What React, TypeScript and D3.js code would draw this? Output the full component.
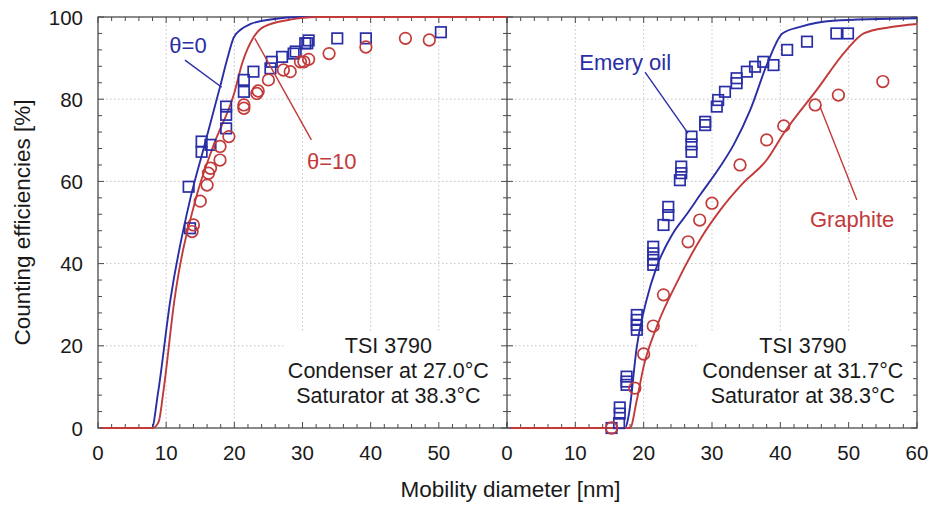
import React, { useEffect, useRef } from "react";
import * as d3 from "d3";

const W = 932;
const H = 505;
const BLUE = "#2a2ea6";
const RED = "#c23a3a";
const FRAME = "#4a4a4a";
const FONT = "'Liberation Sans', Arial, sans-serif";

// ---------- data ----------
const xTicksLeft = [0, 10, 20, 30, 40, 50];
const xTicksRight = [0, 10, 20, 30, 40, 50, 60];
const yTicks = [0, 20, 40, 60, 80, 100];

// Left panel (TSI 3790, condenser 27.0°C)
const leftSquareD = [13.3, 13.5, 15.2, 15.2, 16.5, 18.8, 18.8, 18.8, 21.4, 21.4, 22.8, 25.3, 25.5, 27.0, 28.7, 29.0, 30.4, 30.7, 30.9, 35.1, 39.3, 50.3];
const leftSquareE = [58.7, 48.6, 69.7, 67.2, 68.9, 78.2, 76.2, 72.9, 84.7, 81.8, 86.7, 87.5, 89.1, 90.3, 91.1, 91.6, 93.6, 93.6, 94.3, 94.8, 94.8, 96.3];
const leftCircleD = [13.8, 14.0, 15.0, 16.0, 16.2, 16.5, 17.9, 17.9, 19.2, 21.4, 21.4, 23.3, 23.5, 25.0, 27.2, 28.2, 29.7, 30.2, 30.9, 33.9, 39.3, 45.1, 48.6];
const leftCircleE = [47.8, 49.4, 55.2, 59.1, 62.0, 63.2, 65.2, 68.5, 70.9, 77.8, 78.6, 81.4, 82.0, 84.7, 87.1, 86.7, 89.1, 89.1, 89.7, 91.1, 92.7, 94.8, 94.4];
const leftTheta0D = [0.5, 7.9, 8.8, 10.6, 13.5, 15.5, 17.9, 19.0, 19.9, 21, 22.4, 25.3, 30, 60];
const leftTheta0E = [0, 0, 8.5, 31, 55.5, 68, 83, 90, 95, 97, 98.3, 99.4, 100, 100];
const leftTheta10D = [0.5, 8.0, 8.9, 9.6, 11.2, 14.3, 17, 19.9, 21.2, 22.8, 24.3, 28, 32, 60];
const leftTheta10E = [0, 0, 1.5, 9, 31, 55.5, 69, 81, 89, 95, 97.6, 99.3, 100, 100];

// Right panel (TSI 3790, condenser 31.7°C)
const rightSquareD = [15.3, 16.4, 16.5, 16.5, 17.5, 17.5, 17.5, 19.0, 19.0, 19.0, 19.0, 21.4, 21.4, 21.4, 21.4, 22.9, 23.6, 23.6, 25.3, 25.5, 25.5, 27.0, 27.0, 27.0, 29.0, 29.0, 30.7, 30.9, 31.9, 33.6, 33.6, 35.1, 36.3, 37.5, 39.0, 41.0, 43.9, 48.2, 49.9];
const rightSquareE = [0, 1.2, 3.5, 5.0, 10.5, 11.3, 12.5, 23.9, 25.1, 26.3, 27.5, 39.7, 40.9, 42.5, 44.1, 49.4, 51.8, 53.8, 60.3, 62.0, 63.6, 67.2, 69.0, 70.9, 73.7, 74.5, 78.2, 79.8, 81.8, 83.9, 85.1, 86.7, 87.9, 89.1, 88.3, 92.0, 94.0, 96.0, 96.0];
const rightCircleD = [15.3, 18.7, 20.0, 21.4, 22.9, 26.5, 28.2, 30.0, 34.1, 38.0, 40.5, 45.1, 48.5, 55.0];
const rightCircleE = [0, 9.7, 18.0, 24.8, 32.4, 45.3, 50.6, 54.7, 64.0, 70.1, 73.5, 78.6, 81.0, 84.3];
const rightEmeryD = [0.5, 17.3, 17.8, 19.0, 20.4, 21.9, 24.3, 26.3, 28.3, 31.2, 33.2, 35.6, 38.1, 40.3, 42.9, 47.7, 60];
const rightEmeryE = [0, 0, 3, 19.8, 31, 39.2, 47.4, 52.0, 56.8, 63.6, 69.0, 77.4, 88.7, 96, 97.6, 99.1, 99.7];
const rightGraphiteD = [0.5, 18.0, 19.0, 20.0, 21.9, 24.8, 28.2, 31.2, 34.5, 38.0, 40.5, 45.3, 49.7, 52.2, 56, 60];
const rightGraphiteE = [0, 0, 6.8, 15, 24.6, 35.2, 45.7, 53, 59.5, 65.2, 71.7, 82.2, 92, 96, 97.5, 98.3];

const leftInfo = ["TSI 3790", "Condenser at 27.0°C", "Saturator at 38.3°C"];
const rightInfo = ["TSI 3790", "Condenser at 31.7°C", "Saturator at 38.3°C"];

const zip = (a: number[], b: number[]) => a.map((v, i) => [v, b[i]] as [number, number]);

export default function App() {
  const ref = useRef<SVGSVGElement>(null);

  useEffect(() => {
    const svg = d3.select(ref.current);
    svg.selectAll("*").remove();

    const top = 17, bottom = 428;
    const y = d3.scaleLinear().domain([0, 100]).range([bottom, top]);
    const xL = d3.scaleLinear().domain([0, 60]).range([98, 507]);
    const xR = d3.scaleLinear().domain([0, 60]).range([507, 917]);

    svg.append("rect").attr("width", W).attr("height", H).attr("fill", "#fff");

    const panels = [
      {
        x: xL, xTicks: xTicksLeft,
        curves: [
          { d: zip(leftTheta0D, leftTheta0E), c: BLUE },
          { d: zip(leftTheta10D, leftTheta10E), c: RED },
        ],
        squares: zip(leftSquareD, leftSquareE),
        circles: zip(leftCircleD, leftCircleE),
        info: leftInfo, infoX: 42.6,
        labels: [
          { t: "θ=0", c: BLUE, x: 13.2, y: 91.2, lx1: 12.76, ly1: 89.5, lx2: 18.15, ly2: 82.9 },
          { t: "θ=10", c: RED, x: 34.3, y: 63.0, lx1: 23.0, ly1: 94.8, lx2: 31.3, ly2: 70.1 },
        ],
      },
      {
        x: xR, xTicks: xTicksRight,
        curves: [
          { d: zip(rightEmeryD, rightEmeryE), c: BLUE },
          { d: zip(rightGraphiteD, rightGraphiteE), c: RED },
        ],
        squares: zip(rightSquareD, rightSquareE),
        circles: zip(rightCircleD, rightCircleE),
        info: rightInfo, infoX: 43.3,
        labels: [
          { t: "Emery oil", c: BLUE, x: 17.3, y: 87.1, lx1: 20.2, ly1: 86.6, lx2: 26.5, ly2: 71.7 },
          { t: "Graphite", c: RED, x: 50.5, y: 48.9, lx1: 45.8, ly1: 78.2, lx2: 51.2, ly2: 55.5 },
        ],
      },
    ];

    panels.forEach((p) => {
      const x = p.x;
      const g = svg.append("g");
      // grid
      [10, 20, 30, 40, 50].forEach((v) => {
        g.append("line").attr("x1", x(v)).attr("x2", x(v)).attr("y1", top).attr("y2", bottom)
          .attr("stroke", "#c4c4c4").attr("stroke-width", 1).attr("stroke-dasharray", "1.5 2.5");
      });
      [20, 40, 60, 80].forEach((v) => {
        g.append("line").attr("x1", x(0)).attr("x2", x(60)).attr("y1", y(v)).attr("y2", y(v))
          .attr("stroke", "#c4c4c4").attr("stroke-width", 1).attr("stroke-dasharray", "1.5 2.5");
      });

      // info text box
      const infoG = svg.append("g");
      const bg = infoG.append("rect").attr("fill", "#fff");
      const tg = infoG.append("g");
      p.info.forEach((t, i) => {
        tg.append("text").attr("x", x(p.infoX)).attr("y", 353 + i * 25)
          .attr("text-anchor", "middle").attr("font-family", FONT).attr("font-size", 21.5)
          .attr("fill", "#1a1a1a").text(t);
      });
      const bb = (tg.node() as SVGGElement).getBBox();
      bg.attr("x", bb.x - 4).attr("y", bb.y - 2).attr("width", x(60) - 1 - (bb.x - 4))
        .attr("height", bottom - 1 - (bb.y - 2));

      // label backgrounds + text
      p.labels.forEach((l) => {
        const lg = svg.append("g");
        const r = lg.append("rect").attr("fill", "#fff");
        const t = lg.append("text").attr("x", x(l.x)).attr("y", y(l.y)).attr("text-anchor", "middle")
          .attr("font-family", FONT).attr("font-size", 22).attr("fill", l.c).text(l.t);
        const b = (t.node() as SVGTextElement).getBBox();
        r.attr("x", b.x - 2).attr("y", b.y).attr("width", b.width + 4).attr("height", b.height);
      });
    });

    // frame
    svg.append("rect").attr("x", xL(0)).attr("y", top).attr("width", xR(60) - xL(0)).attr("height", bottom - top)
      .attr("fill", "none").attr("stroke", FRAME).attr("stroke-width", 1.3);
    svg.append("line").attr("x1", xR(0)).attr("x2", xR(0)).attr("y1", top).attr("y2", bottom)
      .attr("stroke", FRAME).attr("stroke-width", 1.3);

    // ticks
    const tk = svg.append("g").attr("stroke", FRAME).attr("stroke-width", 1);
    [xL, xR].forEach((x) => {
      d3.range(0, 61, 2).forEach((v) => {
        const len = v % 10 === 0 ? 6 : 4;
        tk.append("line").attr("x1", x(v)).attr("x2", x(v)).attr("y1", bottom).attr("y2", bottom - len);
        tk.append("line").attr("x1", x(v)).attr("x2", x(v)).attr("y1", top).attr("y2", top + len);
      });
    });
    d3.range(0, 101, 4).forEach((v) => {
      const len = v % 20 === 0 ? 6 : 4;
      tk.append("line").attr("x1", xL(0)).attr("x2", xL(0) + len).attr("y1", y(v)).attr("y2", y(v));
      tk.append("line").attr("x1", xR(0) - len).attr("x2", xR(0) + len).attr("y1", y(v)).attr("y2", y(v));
      tk.append("line").attr("x1", xR(60) - len).attr("x2", xR(60)).attr("y1", y(v)).attr("y2", y(v));
    });

    // tick labels
    const tl = svg.append("g").attr("font-family", FONT).attr("font-size", 20.5).attr("fill", "#1a1a1a");
    yTicks.forEach((v) => {
      tl.append("text").attr("x", 83).attr("y", y(v) + 7.5).attr("text-anchor", "end").text(v);
    });
    panels.forEach((p) => {
      p.xTicks.forEach((v) => {
        tl.append("text").attr("x", p.x(v)).attr("y", 460).attr("text-anchor", "middle").text(v);
      });
    });

    // axis titles
    svg.append("text").attr("transform", `translate(30,${(top + bottom) / 2}) rotate(-90)`)
      .attr("text-anchor", "middle").attr("font-family", FONT).attr("font-size", 22.5).attr("fill", "#1a1a1a")
      .text("Counting efficiencies [%]");
    svg.append("text").attr("x", (xL(0) + xR(60)) / 2 + 3).attr("y", 497)
      .attr("text-anchor", "middle").attr("font-family", FONT).attr("font-size", 22.5).attr("fill", "#1a1a1a")
      .text("Mobility diameter [nm]");

    // curves, markers, leader lines
    panels.forEach((p) => {
      const x = p.x;
      const line = d3.line<[number, number]>().x((d) => x(d[0])).y((d) => y(d[1])).curve(d3.curveMonotoneX);
      p.curves.forEach((c) => {
        svg.append("path").attr("d", line(c.d) as string).attr("fill", "none")
          .attr("stroke", c.c).attr("stroke-width", 1.9);
      });
      const s = 10.5;
      p.squares.forEach((d) => {
        svg.append("rect").attr("x", x(d[0]) - s / 2).attr("y", y(d[1]) - s / 2).attr("width", s).attr("height", s)
          .attr("fill", "none").attr("stroke", BLUE).attr("stroke-width", 1.7);
      });
      p.circles.forEach((d) => {
        svg.append("circle").attr("cx", x(d[0])).attr("cy", y(d[1])).attr("r", 5.8)
          .attr("fill", "none").attr("stroke", RED).attr("stroke-width", 1.7);
      });
      p.labels.forEach((l) => {
        svg.append("line").attr("x1", x(l.lx1)).attr("y1", y(l.ly1)).attr("x2", x(l.lx2)).attr("y2", y(l.ly2))
          .attr("stroke", l.c).attr("stroke-width", 1.4);
      });
    });
  }, []);

  return (
    <svg ref={ref} width={W} height={H}
      style={{ position: "absolute", left: 0, top: 0, display: "block", background: "#fff" }} />
  );
}
